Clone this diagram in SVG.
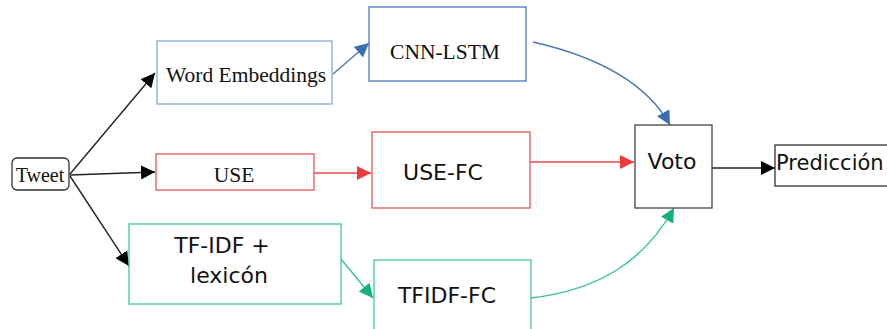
<svg xmlns="http://www.w3.org/2000/svg" width="887" height="329" viewBox="0 0 887 329">
<style>
.serif{font-family:"Liberation Serif","Times New Roman",serif;font-size:21.5px;fill:#111;text-anchor:middle}
.sans{font-family:"DejaVu Sans",Verdana,sans-serif;font-size:22px;fill:#111;text-anchor:middle}
.box{fill:#fff;stroke-width:1.3}
.line{fill:none;stroke-width:1.4}
</style>
<defs>
<marker id="aK" viewBox="0 0 10 10" refX="10" refY="5" markerWidth="14" markerHeight="14" markerUnits="userSpaceOnUse" orient="auto"><path d="M0,0L10,5L0,10z" fill="#000"/></marker>
<marker id="aB" viewBox="0 0 10 10" refX="10" refY="5" markerWidth="14" markerHeight="14" markerUnits="userSpaceOnUse" orient="auto"><path d="M0,0L10,5L0,10z" fill="#3b6db3"/></marker>
<marker id="aR" viewBox="0 0 10 10" refX="10" refY="5" markerWidth="14" markerHeight="14" markerUnits="userSpaceOnUse" orient="auto"><path d="M0,0L10,5L0,10z" fill="#ee3b3b"/></marker>
<marker id="aG" viewBox="0 0 10 10" refX="10" refY="5" markerWidth="14" markerHeight="14" markerUnits="userSpaceOnUse" orient="auto"><path d="M0,0L10,5L0,10z" fill="#12b07a"/></marker>
</defs>
<g id="connectors">
<path class="line" stroke="#222" d="M70,174L155,73" marker-end="url(#aK)"/>
<path class="line" stroke="#222" d="M70,175L155,172" marker-end="url(#aK)"/>
<path class="line" stroke="#222" d="M70,176L129,266" marker-end="url(#aK)"/>
<path class="line" stroke="#4a78b8" d="M333,74L369,43" marker-end="url(#aB)"/>
<path class="line" stroke="#4a78b8" d="M533,42C590,55,645,80,670,125" marker-end="url(#aB)"/>
<path class="line" stroke="#ee4444" d="M314,173L371,173" marker-end="url(#aR)"/>
<path class="line" stroke="#ee4444" d="M530,162L634,162" marker-end="url(#aR)"/>
<path class="line" stroke="#222" d="M712,168L775,168" marker-end="url(#aK)"/>
<path class="line" stroke="#33c48f" d="M341,259L373,298" marker-end="url(#aG)"/>
<path class="line" stroke="#33c48f" d="M531,298C600,290,645,260,674,208" marker-end="url(#aG)"/>
</g>
<g id="tweet"><rect class="box" x="12" y="158" width="57" height="32" rx="5" stroke="#333"/><text class="serif" x="40" y="182" style="font-size:20px">Tweet</text></g>
<g id="word-embeddings"><rect class="box" x="157" y="41" width="175" height="63" stroke="#8aa8d8"/><text class="serif" x="246" y="82">Word Embeddings</text></g>
<g id="cnn-lstm"><rect class="box" x="369" y="7" width="157" height="74" stroke="#4a78b8"/><text class="serif" x="445" y="59">CNN-LSTM</text></g>
<g id="use"><rect class="box" x="156" y="154" width="158" height="36" stroke="#e55555"/><text class="serif" x="234" y="182">USE</text></g>
<g id="use-fc"><rect class="box" x="372" y="132" width="158" height="76" stroke="#e55555"/><text class="sans" x="443" y="180">USE-FC</text></g>
<g id="voto"><rect class="box" x="635" y="125" width="77" height="83" stroke="#444"/><text class="sans" x="672" y="169">Voto</text></g>
<g id="prediccion"><rect class="box" x="775" y="145" width="120" height="41" stroke="#333"/><text class="sans" x="776" y="170" style="text-anchor:start;font-size:21px">Predicción</text></g>
<g id="tfidf-lexicon"><rect class="box" x="129" y="224" width="212" height="80" stroke="#44c898"/><text class="sans" x="222" y="253">TF-IDF +</text><text class="sans" x="229" y="283">lexicón</text></g>
<g id="tfidf-fc"><rect class="box" x="374" y="260" width="157" height="80" stroke="#44c898"/><text class="sans" x="447" y="303">TFIDF-FC</text></g>
</svg>
